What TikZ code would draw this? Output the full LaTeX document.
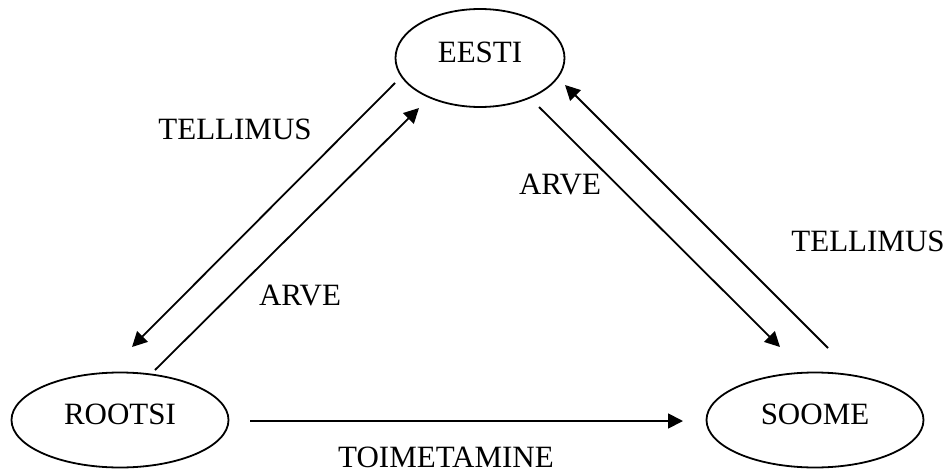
\documentclass[tikz,border=0pt]{standalone}
\usepackage{fontspec}
\setmainfont{Liberation Serif}
\usetikzlibrary{arrows.meta,shapes.geometric}

\begin{document}
\begin{tikzpicture}[x=0.5pt, y=-0.5pt, line width=0.9pt, >={Triangle[length=7.5pt,width=7.5pt]},
        font=\fontsize{15.5}{18}\selectfont,
        land/.style={draw, ellipse, inner sep=0pt, text depth=6pt},
        lbl/.style={inner sep=0pt}]
      \useasboundingbox (0,0) rectangle (947,471);
      \node[land, minimum width=84.5pt, minimum height=49pt] (eesti) at (480,58) {EESTI};
      \node[land, minimum width=108.5pt, minimum height=47.5pt] (rootsi) at (120,420) {ROOTSI};
      \node[land, minimum width=108.5pt, minimum height=47.5pt] (soome) at (815,420) {SOOME};
      \draw[->] ([shift={(-85,25)}]eesti.center) -- ([shift={(12,-73)}]rootsi.center);
      \draw[->] ([shift={(35,-50)}]rootsi.center) -- ([shift={(-61,50)}]eesti.center);
      \draw[->] ([shift={(59,49)}]eesti.center) -- ([shift={(-35,-73)}]soome.center);
      \draw[->] ([shift={(13,-72)}]soome.center) -- ([shift={(85,27)}]eesti.center);
      \draw[->] ([shift={(130,1)}]rootsi.center) -- ([shift={(-132,1)}]soome.center);
      \node[lbl] (tellL) at (235,129) {TELLIMUS};
      \node[lbl] (arveL) at (300,295) {ARVE};
      \node[lbl] (arveR) at (560,184) {ARVE};
      \node[lbl] (tellR) at (868,241) {TELLIMUS};
      \node[lbl] (toim) at (446,457) {TOIMETAMINE};
    \end{tikzpicture}
\end{document}
